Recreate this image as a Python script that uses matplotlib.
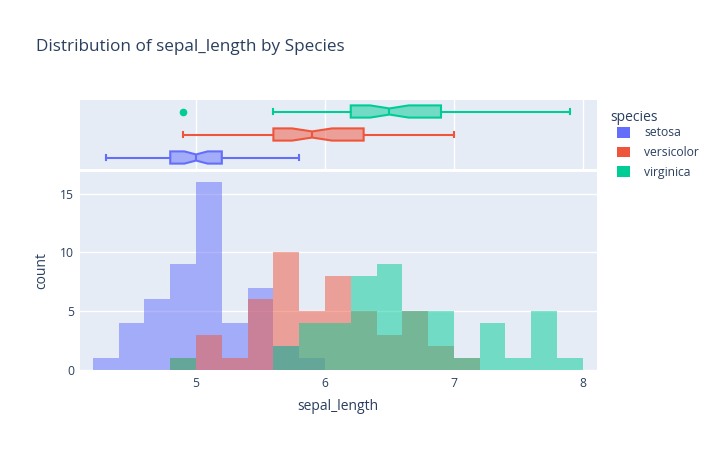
import numpy as np
import matplotlib.pyplot as plt
from matplotlib.patches import Patch

plt.rcParams['font.family'] = ['Open Sans', 'DejaVu Sans']

# data
species = ['setosa', 'versicolor', 'virginica']
colors = ['#636efa', '#EF553B', '#00cc96']

bin_left = [4.2, 4.4, 4.6, 4.8, 5.0, 5.2, 5.4, 5.6, 5.8, 6.0,
            6.2, 6.4, 6.6, 6.8, 7.0, 7.2, 7.4, 7.6, 7.8]
bin_width = 0.2
counts_setosa = [1, 4, 6, 9, 16, 4, 7, 2, 1, 0, 0, 0, 0, 0, 0, 0, 0, 0, 0]
counts_versicolor = [0, 0, 0, 1, 3, 1, 6, 10, 5, 8, 5, 3, 5, 2, 1, 0, 0, 0, 0]
counts_virginica = [0, 0, 0, 1, 0, 0, 0, 2, 4, 4, 8, 9, 5, 5, 1, 4, 1, 5, 1]
counts = [counts_setosa, counts_versicolor, counts_virginica]

# box stats: whislo, q1, med, q3, whishi, notch half span, outliers
box_whislo = [4.3, 4.9, 5.6]
box_q1 = [4.8, 5.6, 6.2]
box_med = [5.0, 5.9, 6.5]
box_q3 = [5.2, 6.3, 6.9]
box_whishi = [5.8, 7.0, 7.9]
box_notch = [0.09, 0.155, 0.15]
box_fliers = [[], [], [4.9]]

txt = '#2a3f5f'
bg = '#E5ECF6'
W, H = 718, 450

fig = plt.figure(figsize=(W / 100, H / 100), dpi=100)
ax_box = fig.add_axes([80 / W, 1 - 169 / H, 517 / W, 69 / H])
ax_hist = fig.add_axes([80 / W, 1 - 370 / H, 517 / W, 198 / H])

# histogram, overlaid
for c, col in zip(counts, colors):
    ax_hist.bar(bin_left, c, width=bin_width, align='edge', color=col,
                alpha=0.5, linewidth=0, zorder=2)

# marginal boxes
stats = []
for i in range(3):
    stats.append(dict(med=box_med[i], q1=box_q1[i], q3=box_q3[i],
                      whislo=box_whislo[i], whishi=box_whishi[i],
                      cilo=box_med[i] - box_notch[i], cihi=box_med[i] + box_notch[i],
                      fliers=box_fliers[i]))
bp = ax_box.bxp(stats, positions=[0, 1, 2], widths=0.53, orientation='horizontal',
                shownotches=True, patch_artist=True, capwidths=0.26,
                showfliers=True)
for i, col in enumerate(colors):
    bp['boxes'][i].set_facecolor((*plt.matplotlib.colors.to_rgb(col), 0.5))
    bp['boxes'][i].set_edgecolor(col)
    bp['boxes'][i].set_linewidth(1.5)
    bp['medians'][i].set_color(col)
    bp['medians'][i].set_linewidth(1.5)
    for w in bp['whiskers'][2 * i:2 * i + 2]:
        w.set_color(col)
        w.set_linewidth(1.5)
    for cp in bp['caps'][2 * i:2 * i + 2]:
        cp.set_color(col)
        cp.set_linewidth(1.5)
    bp['fliers'][i].set(marker='o', markerfacecolor=col, markeredgecolor=col,
                        markersize=4.5)

for ax in (ax_box, ax_hist):
    ax.set_facecolor(bg)
    for s in ax.spines.values():
        s.set_visible(False)
    ax.set_xlim(4.1, 8.11)
    ax.set_xticks([5, 6, 7, 8])
    ax.tick_params(length=0, colors=txt, labelsize=8.7)
    ax.set_axisbelow(True)

ax_box.set_ylim(-0.5, 2.5)
ax_box.set_yticks([])
ax_box.set_xticklabels([])
ax_box.xaxis.grid(True, color='white', linewidth=1)

ax_hist.set_ylim(0, 16.84)
ax_hist.set_yticks([0, 5, 10, 15])
ax_hist.yaxis.grid(True, color='white', linewidth=1)
ax_hist.tick_params(axis='x', pad=5)
ax_hist.tick_params(axis='y', pad=4)
ax_hist.set_xlabel('sepal_length', color=txt, fontsize=10)
ax_hist.set_ylabel('count', color=txt, fontsize=10)
ax_hist.xaxis.set_label_coords(0.499, -0.145)
ax_hist.yaxis.set_label_coords(-0.06, 0.505)

fig.text(36 / W, 1 - 51 / H, 'Distribution of sepal_length by Species',
         color=txt, fontsize=12.3, va='baseline', ha='left')

# legend
fig.text(610 / W, 1 - 121 / H, 'species', color=txt, fontsize=10,
         va='baseline', ha='left')
handles = [Patch(facecolor=c, edgecolor='none') for c in colors]
fig.legend(handles, species, loc='upper left',
           bbox_to_anchor=(615 / W, 1 - 124 / H), frameon=False,
           fontsize=8.7, labelcolor=txt, handlelength=1.0, handleheight=1.0,
           handletextpad=1.2, labelspacing=0.55, borderpad=0.2, borderaxespad=0)

fig.savefig('out.png', dpi=100)
